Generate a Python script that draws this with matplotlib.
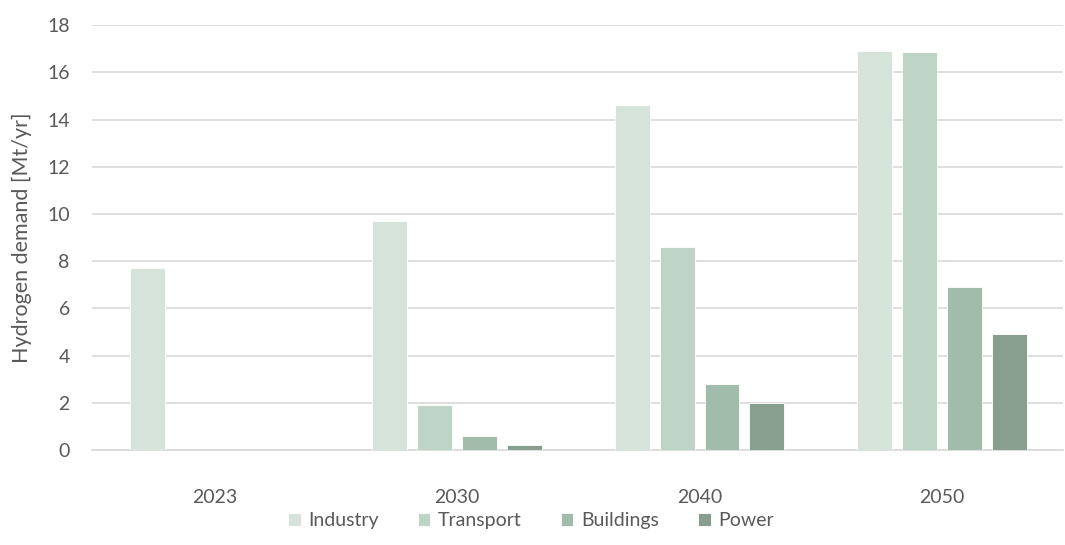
import numpy as np
import matplotlib.pyplot as plt

# hydrogen demand by sector, Mt/yr
years = ['2023', '2030', '2040', '2050']
industry = [7.7, 9.7, 14.6, 16.9]
transport = [0, 1.9, 8.6, 16.85]
buildings = [0, 0.6, 2.8, 6.9]
power = [0, 0.2, 2.0, 4.9]

series = [('Industry', industry, '#d5e3db'),
          ('Transport', transport, '#bdd4c7'),
          ('Buildings', buildings, '#a2bcab'),
          ('Power', power, '#889e8f')]

plt.rcParams['font.family'] = ['Lato', 'DejaVu Sans']
txt = '#595959'

fig = plt.figure(figsize=(10.65, 5.45), dpi=100)
ax = fig.add_axes([0.0864, 0.174, 0.912, 0.78])

x = np.arange(len(years))
w = 0.144
step = 0.185
for i, (name, vals, col) in enumerate(series):
    ax.bar(x + (i - 1.5) * step, vals, width=w, color=col, label=name,
           edgecolor='white', linewidth=0.6, zorder=3)

ax.set_xlim(-0.506, 3.5)
ax.set_ylim(0, 18)
ax.set_yticks(range(0, 19, 2))
ax.set_xticks(x)
ax.set_xticklabels(years)
ax.yaxis.grid(True, color='#d9d9d9', linewidth=1.2, zorder=0)
for s in ['top', 'right', 'left']:
    ax.spines[s].set_visible(False)
ax.spines['bottom'].set_color('#d9d9d9')
ax.spines['bottom'].set_linewidth(1.2)
ax.tick_params(axis='both', length=0, labelsize=14, labelcolor=txt)
ax.tick_params(axis='x', pad=28)
ax.tick_params(axis='y', pad=16)
ax.set_ylabel('Hydrogen demand [Mt/yr]', fontsize=15.5, color=txt, labelpad=11)

ax.legend(loc='center', bbox_to_anchor=(0.452, -0.166), ncol=4, frameon=False,
          fontsize=14, labelcolor=txt, handlelength=0.65, handleheight=0.65,
          handletextpad=0.4, columnspacing=2.0)

plt.savefig('out.png')
